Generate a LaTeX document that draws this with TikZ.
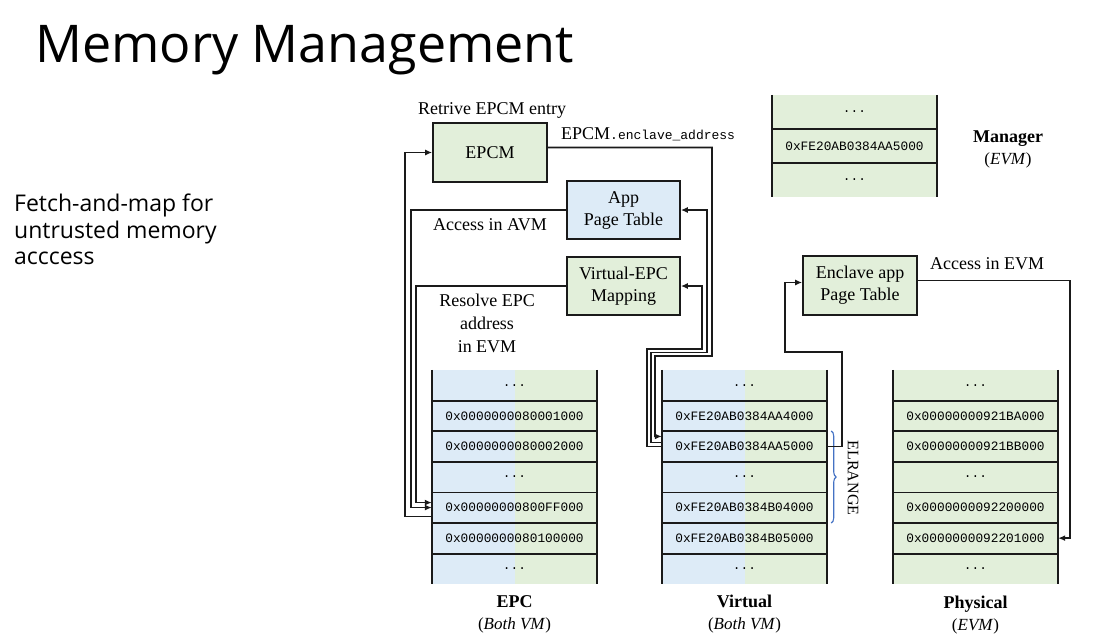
\documentclass[tikz,border=0pt]{standalone}
\usepackage{fontspec}
\setmainfont{Liberation Serif}
\setmonofont{Liberation Mono}
\newfontfamily\slidefont{Open Sans}
\usetikzlibrary{arrows.meta,decorations.pathreplacing,calc,backgrounds}
\definecolor{cgreen}{HTML}{E2EFDA}
\definecolor{cblue}{HTML}{DDEBF7}
\definecolor{cbrace}{HTML}{4472C4}
\definecolor{cline}{HTML}{1A1A1A}
\newcommand{\rowdots}{...}
\begin{document}
\begin{tikzpicture}[x=1pt,y=-1pt,
  lbl/.style={inner sep=0pt, font=\fontsize{18}{22}\selectfont},
  box/.style={draw=cline, line width=1.7pt, inner sep=0pt, align=center,
    minimum width=114pt, minimum height=59pt, font=\fontsize{18}{22}\selectfont},
  row/.style={inner sep=0pt, minimum width=165pt, minimum height=30.57pt,
    font=\ttfamily\fontsize{12.8}{14}\selectfont},
  mrow/.style={row, minimum height=34pt},
  tline/.style={draw=cline, line width=1.8pt},
  conn/.style={draw=cline, line width=1.6pt},
  arr/.style={conn, -{Latex[length=7pt,width=6pt]}},
  ttl/.style={inner sep=0pt, anchor=base, font=\bfseries\fontsize{18}{22}\selectfont},
  sub/.style={inner sep=0pt, anchor=base, font=\fontsize{17}{20}\selectfont},
]
\useasboundingbox (0,0) rectangle (1115,637);

% slide text
\node[anchor=base west, inner sep=0pt, font=\slidefont\fontsize{52}{60}\selectfont] (title) at (35,62) {Memory Management};
\node[anchor=base west, inner sep=0pt, font=\slidefont\fontsize{23}{27}\selectfont] (s1) at (14,211) {Fetch-and-map for};
\node[anchor=base west, inner sep=0pt, font=\slidefont\fontsize{23}{27}\selectfont] (s2) at (14,238) {untrusted memory};
\node[anchor=base west, inner sep=0pt, font=\slidefont\fontsize{23}{27}\selectfont] (s3) at (14,264) {acccess};

% boxes
\node[box, fill=cgreen] (epcm) at (490,152.5) {EPCM};
\node[box, fill=cblue, minimum width=113pt, minimum height=58pt] (apt) at (623.5,210) {App\\Page Table};
\node[box, fill=cgreen, minimum width=113pt, minimum height=58pt] (vepc) at (623.5,286) {Virtual-EPC\\Mapping};
\node[box, fill=cgreen] (ept) at (860,285.5) {Enclave app\\Page Table};

% labels
\node[lbl] (lret) at (492,110) {Retrive EPCM entry};
\node[lbl, anchor=base west] (lenc) at (561,139) {EPCM{\ttfamily\fontsize{13}{14}\selectfont .enclave\_address}};
\node[lbl] (lavm) at (490,225) {Access in AVM};
\node[lbl, align=center, font=\fontsize{18}{23}\selectfont] (lres) at (487,323) {Resolve EPC\\address\\in EVM};
\node[lbl, anchor=west] (levm) at (930,264) {Access in EVM};

% tables
\foreach \t [count=\i] in {\rowdots,0x0000000080001000,0x0000000080002000,\rowdots,0x00000000800FF000,0x0000000080100000,\rowdots}
  \node[row] (epc\i) at (514.5,354.715+30.57*\i) {\t};
\foreach \t [count=\i] in {\rowdots,0xFE20AB0384AA4000,0xFE20AB0384AA5000,\rowdots,0xFE20AB0384B04000,0xFE20AB0384B05000,\rowdots}
  \node[row] (vir\i) at (744.5,354.715+30.57*\i) {\t};
\foreach \t [count=\i] in {\rowdots,0x00000000921BA000,0x00000000921BB000,\rowdots,0x0000000092200000,0x0000000092201000,\rowdots}
  \node[row] (phy\i) at (975.5,354.715+30.57*\i) {\t};
\foreach \t [count=\i] in {\rowdots,0xFE20AB0384AA5000,\rowdots}
  \node[mrow] (man\i) at (854.5,78+34*\i) {\t};

\begin{scope}[on background layer]
  \fill[white] (0,0) rectangle (1115,637);
  \fill[cblue] (epc1.north west) rectangle (epc7.south);
  \fill[cgreen] (epc1.north) rectangle (epc7.south east);
  \fill[cblue] (vir1.north west) rectangle (vir7.south);
  \fill[cgreen] (vir1.north) rectangle (vir7.south east);
  \fill[cgreen] (phy1.north west) rectangle (phy7.south east);
  \fill[cgreen] (man1.north west) rectangle (man3.south east);
\end{scope}

\foreach \tb/\n in {epc/7,vir/7,phy/7,man/3}{
  \draw[tline] (\tb1.north west) -- (\tb\n.south west);
  \draw[tline] (\tb1.north east) -- (\tb\n.south east);
}
\foreach \tb/\n in {epc/6,vir/6,phy/6,man/2}{
  \foreach \i in {1,...,\n}
    \draw[tline] (\tb\i.south west) -- (\tb\i.south east);
}

% table captions
\node[ttl] (cepc) at (514.5,607) {EPC};
\node[sub] (cepc2) at (514.5,629) {(\textit{Both VM})};
\node[ttl] (cvir) at (744.5,607) {Virtual};
\node[sub] (cvir2) at (744.5,629) {(\textit{Both VM})};
\node[ttl] (cphy) at (975.5,608) {Physical};
\node[sub] (cphy2) at (975.5,630) {(\textit{EVM})};
\node[ttl] (cman) at (1008,142) {Manager};
\node[sub] (cman2) at (1008,164) {(\textit{EVM})};

% ELRANGE brace
\draw[cbrace, line width=1.1pt, decorate, decoration={brace, amplitude=5pt}]
  ($(vir3.north east)+(4,0)$) -- ($(vir5.south east)+(4,0)$);
\node[rotate=-90, inner sep=0pt, font=\fontsize{16}{18}\selectfont] (elr) at (853,478) {ELRANGE};

% left bundle
\draw[arr] ($(epc5.west)+(0,9)$) -- ($(epc5.west)+(-27,9)$) |- (epcm.west);
\draw[arr] (apt.west) -| ($(epc5.west)+(-21,0)$) -- (epc5.west);
\draw[arr] (vepc.west) -| ($(epc5.west)+(-16,-5)$) -- ($(epc5.west)+(0,-5)$);

% right bundle
\draw[arr] ($(epcm.east)+(0,-5)$) -| (712,356) -| (655,436.4) -- ($(vir3.west)+(0,-10)$);
\draw[arr] ($(vir3.west)+(0,-4)$) -| (651,352.5) -| ($(apt.east)+(26,0)$) -- (apt.east);
\draw[arr] (vir3.west) -| (647,349) -| ($(vepc.east)+(21,0)$) -- (vepc.east);

% enclave path
\draw[arr] (vir3.east) -| (842,352) -| ($(ept.west)+(-17,-3)$) -- ($(ept.west)+(0,-3)$);
\draw[arr] ($(ept.east)+(0,-5)$) -| ($(phy6.east)+(12,0)$) -- (phy6.east);
\end{tikzpicture}
\end{document}
